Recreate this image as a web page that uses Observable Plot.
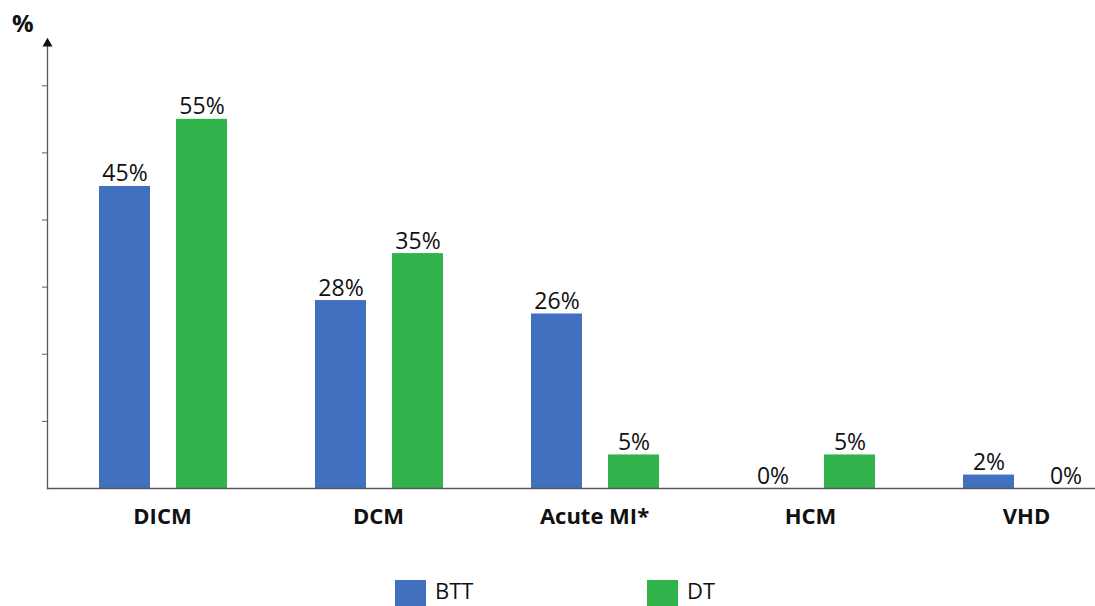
<!DOCTYPE html>
<html>
<head>
<meta charset="utf-8">
<script src="https://cdn.jsdelivr.net/npm/d3@7"></script>
<script src="https://cdn.jsdelivr.net/npm/@observablehq/plot@0.6"></script>
<style>
  html, body { margin: 0; padding: 0; background: #fff; overflow: hidden; }
  body { font-family: "Open Sans", sans-serif; color: #111; }
  #wrap { position: relative; width: 1095px; height: 606px; }
  #pct { position: absolute; left: 12px; top: 6px; font-size: 24px; font-weight: bold; }
  #legend { position: absolute; left: 395px; top: 575px; display: flex; }
  .item { display: flex; align-items: flex-start; width: 252px; }
  .sw { width: 31px; height: 26px; margin-top: 5px; margin-right: 9px; }
  .lab { font-size: 22px; line-height: normal; }
</style>
</head>
<body>
<div id="wrap">
  <div id="chart"></div>
  <div id="pct">%</div>
  <div id="legend"></div>
</div>
<script>
const categories = ["DICM", "DCM", "Acute MI*", "HCM", "VHD"];
const series = ["BTT", "DT"];
const bttValues = [45, 28, 26, 0, 2];
const dtValues = [55, 35, 5, 5, 0];
const seriesColors = ["#4270C1", "#31B34B"];
const yTicks = [10, 20, 30, 40, 50, 60];

const rows = [];
categories.forEach((c, i) => {
  rows.push({category: c, series: series[0], value: bttValues[i]});
  rows.push({category: c, series: series[1], value: dtValues[i]});
});

const chart = Plot.plot({
  width: 1095,
  height: 545,
  marginTop: 43,
  marginBottom: 57,
  marginLeft: 46,
  marginRight: -33.5,
  style: {fontFamily: "Open Sans, sans-serif", color: "#111", background: "transparent"},
  fx: {domain: categories, paddingInner: 0, paddingOuter: 0},
  x: {domain: series, paddingInner: 0.3377, paddingOuter: 0.571, align: 0.59, axis: null},
  y: {domain: [0, 66.3], axis: null},
  color: {domain: series, range: seriesColors},
  marks: [
    Plot.barY(rows, {fx: "category", x: "series", y: "value", fill: "series"}),
    Plot.text(rows, {
      fx: "category", x: "series", y: "value",
      text: d => d.value + "%",
      lineAnchor: "bottom", dy: -5,
      fontSize: 23, fill: "#111"
    }),
    Plot.ruleY([0], {stroke: "#595959", strokeWidth: 1.3}),
    Plot.frame({anchor: "left", facetAnchor: "left", stroke: "#595959", strokeWidth: 1.3}),
    Plot.dot([0], {frameAnchor: "top-left", symbol: "triangle", r: 3.7, fill: "#111", stroke: "none", facetAnchor: "left"}),
    Plot.axisY({ticks: yTicks, tickFormat: () => "", tickSize: 5, tickPadding: 0, stroke: "#595959", label: null, facetAnchor: "left"}),
    Plot.axisFx({anchor: "bottom", tickSize: 0, tickPadding: 20, fontSize: 22, fontWeight: "bold", label: null, dx: 7, fill: "#111"})
  ]
});
document.getElementById("chart").appendChild(chart);

const legend = document.getElementById("legend");
series.forEach((s, i) => {
  const item = document.createElement("div");
  item.className = "item";
  const sw = document.createElement("div");
  sw.className = "sw";
  sw.style.background = seriesColors[i];
  const lab = document.createElement("div");
  lab.className = "lab";
  lab.textContent = s;
  item.appendChild(sw);
  item.appendChild(lab);
  legend.appendChild(item);
});
</script>
</body>
</html>
